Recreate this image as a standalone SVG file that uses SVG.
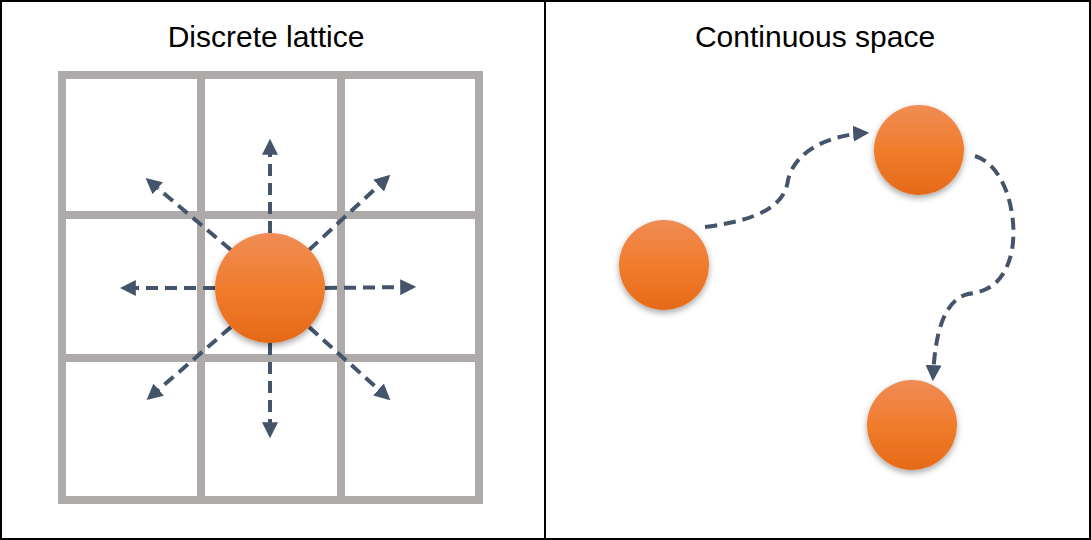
<svg xmlns="http://www.w3.org/2000/svg" width="1091" height="540" viewBox="0 0 1091 540">
<defs>
<linearGradient id="og" x1="0" y1="0" x2="0" y2="1"><stop offset="0" stop-color="#f08c55"/><stop offset="0.5" stop-color="#f07c2c"/><stop offset="1" stop-color="#e56a18"/></linearGradient>
<filter id="sh" x="-30%" y="-30%" width="160%" height="160%"><feDropShadow dx="0" dy="3" stdDeviation="3" flood-color="#000" flood-opacity="0.35"/></filter>
<marker id="ah" viewBox="0 0 10 10" refX="8" refY="5" markerWidth="4" markerHeight="4" orient="auto" markerUnits="strokeWidth"><path d="M0,0 L10,5 L0,10 z" fill="#44546a"/></marker>
<style>
.grid{stroke:#aeaaaa;stroke-width:8;fill:none}
.ar{stroke:#44546a;stroke-width:4;stroke-dasharray:12,7;fill:none;marker-end:url(#ah)}
.t{font-family:"Liberation Sans",Arial,sans-serif;font-size:30px;text-anchor:middle;fill:#000}
.ball{fill:url(#og);filter:url(#sh)}
</style>
</defs>
<rect x="1" y="1" width="1089" height="538" fill="#fff" stroke="#000" stroke-width="2"/>
<line x1="545" y1="1" x2="545" y2="539" stroke="#000" stroke-width="2"/>
<text class="t" x="266" y="47">Discrete lattice</text>
<text class="t" x="815" y="47">Continuous space</text>
<g id="lattice" class="grid">
<rect x="62" y="75" width="417" height="425"/>
<line x1="201" y1="75" x2="201" y2="500"/>
<line x1="341" y1="75" x2="341" y2="500"/>
<line x1="62" y1="215" x2="479" y2="215"/>
<line x1="62" y1="358" x2="479" y2="358"/>
</g>
<g id="connectors">
<line class="ar" x1="270" y1="233" x2="270" y2="142"/>
<line class="ar" x1="270" y1="343" x2="270" y2="435"/>
<line class="ar" x1="215" y1="288" x2="123" y2="288"/>
<line class="ar" x1="325" y1="288" x2="413" y2="287"/>
<line class="ar" x1="231" y1="250" x2="148" y2="180"/>
<line class="ar" x1="309" y1="250" x2="388" y2="177"/>
<line class="ar" x1="231" y1="327" x2="149" y2="398"/>
<line class="ar" x1="309" y1="327" x2="388" y2="398"/>
<path class="ar" d="M705,227 C760,220 785,205 788,180 C795,150 830,135 866,133"/>
<path class="ar" d="M975,156 C1005,165 1018,215 1012,250 C1005,285 985,292 968,294 C945,300 935,330 933,378"/>
</g>
<g id="center"><circle class="ball" cx="270" cy="288" r="55"/></g>
<g id="p1"><circle class="ball" cx="664" cy="265" r="45"/></g>
<g id="p2"><circle class="ball" cx="919" cy="150" r="45"/></g>
<g id="p3"><circle class="ball" cx="912" cy="425" r="45"/></g>
</svg>
